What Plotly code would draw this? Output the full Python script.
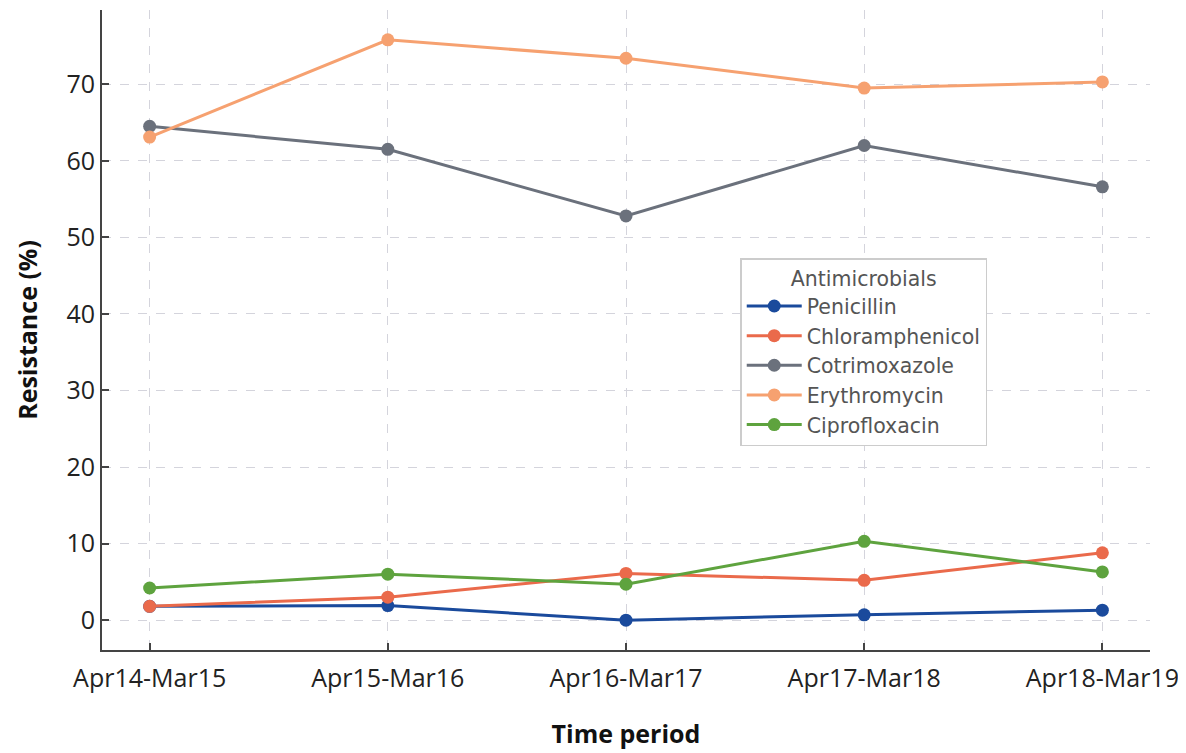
import plotly.graph_objects as go

periods = ["Apr14-Mar15", "Apr15-Mar16", "Apr16-Mar17", "Apr17-Mar18", "Apr18-Mar19"]
penicillin = [1.8, 1.9, 0.0, 0.7, 1.3]
chloramphenicol = [1.8, 3.0, 6.1, 5.2, 8.8]
cotrimoxazole = [64.5, 61.5, 52.8, 62.0, 56.6]
erythromycin = [63.1, 75.8, 73.4, 69.5, 70.3]
ciprofloxacin = [4.2, 6.0, 4.7, 10.3, 6.3]

series = [
    ("Penicillin", penicillin, "#1a4a9c"),
    ("Chloramphenicol", chloramphenicol, "#ea6a4b"),
    ("Cotrimoxazole", cotrimoxazole, "#6b717c"),
    ("Erythromycin", erythromycin, "#f6a170"),
    ("Ciprofloxacin", ciprofloxacin, "#5ea33e"),
]

fig = go.Figure()
for name, vals, color in series:
    fig.add_trace(go.Scatter(
        x=list(range(len(periods))), y=vals, name=name, mode="lines+markers",
        line=dict(color=color, width=3), marker=dict(color=color, size=13),
    ))

axis_common = dict(
    showline=True, linecolor="#444444", linewidth=2, mirror=False,
    ticks="inside", ticklen=7, tickwidth=1.5, tickcolor="#444444",
    showgrid=True, gridcolor="#d4d4dc", griddash="dash", gridwidth=1,
    zeroline=False,
    tickfont=dict(family="Open Sans", size=25, color="#222222"),
)

fig.update_layout(
    width=1186, height=753,
    margin=dict(l=94, r=44, t=2, b=111),
    paper_bgcolor="white", plot_bgcolor="white",
    xaxis=dict(
        **axis_common, range=[-0.2, 4.2], tickmode="array",
        tickvals=list(range(len(periods))), ticktext=periods,
        ticklabelstandoff=5,
        title=dict(text="<b>Time period</b>", font=dict(family="Open Sans", size=25, color="#111111"), standoff=32),
    ),
    yaxis=dict(
        **axis_common, range=[-3.9, 79.7], tickmode="array",
        tickvals=[0, 10, 20, 30, 40, 50, 60, 70],
        title=dict(text="<b>Resistance (%)</b>", font=dict(family="Open Sans", size=25, color="#111111"), standoff=22),
    ),
    legend=dict(
        x=0.609, y=0.6125, xanchor="left", yanchor="top",
        bgcolor="white", bordercolor="#cccccc", borderwidth=1.5,
        font=dict(family="DejaVu Sans", size=20.5, color="#555555"),
        title=dict(text="Antimicrobials", side="top center", font=dict(family="DejaVu Sans", size=20.5, color="#555555")),
        itemwidth=55,
    ),
)

fig.write_html("out.html")
